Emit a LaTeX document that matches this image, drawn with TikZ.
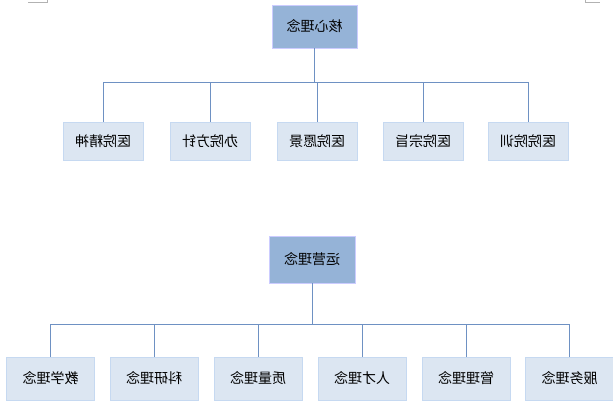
\documentclass[tikz,border=0pt]{standalone}
\usepackage{fontspec}
\setmainfont{Noto Sans CJK SC}
\begin{document}
\begin{tikzpicture}[x=1pt,y=-1pt,
 top/.style={draw=blue!20!white,fill={rgb,255:red,149;green,179;blue,215},inner sep=0,font=\fontsize{14}{14}\selectfont},
 kid/.style={draw={rgb,255:red,198;green,217;blue,241},fill={rgb,255:red,220;green,230;blue,242},inner sep=0,font=\fontsize{14}{14}\selectfont},
 ln/.style={draw={rgb,255:red,110;green,145;blue,195},line width=0.8pt}]
\useasboundingbox (0,0) rectangle (613,405);
\newcommand{\mtxt}[1]{\scalebox{-1}[1]{#1}}
\draw[gray!60] (28,2)--(47,2)--(47,0);
\draw[gray!60] (585,0)--(585,2)--(600,2);
\node[top,minimum width=85,minimum height=43] (a) at (314.5,26.5) {\mtxt{核心理念}};
\coordinate (ha) at (314.5,82);
\foreach \n/\x/\t in {a1/103/医院精神,a2/210/办院方针,a3/317/医院愿景,a4/423/医院宗旨,a5/528/医院院训}{
 \node[kid,minimum width=80,minimum height=38] (\n) at (\x,141) {\mtxt{\t}};
 \draw[ln] (\n.north) -- (\n.north |- ha);
}
\draw[ln] (a.south) -- (ha);
\draw[ln] (a1.north |- ha) -- (a5.north |- ha);
\node[top,minimum width=86,minimum height=47] (b) at (312,259.5) {\mtxt{运营理念}};
\coordinate (hb) at (312,324);
\foreach \n/\x/\t in {b1/50.5/教学理念,b2/154/科研理念,b3/258/质量理念,b4/362/人才理念,b5/466/管理理念,b6/569.5/服务理念}{
 \node[kid,minimum width=88,minimum height=43] (\n) at (\x,378.5) {\mtxt{\t}};
 \draw[ln] (\n.north) -- (\n.north |- hb);
}
\draw[ln] (b.south) -- (hb);
\draw[ln] (b1.north |- hb) -- (b6.north |- hb);
\end{tikzpicture}
\end{document}
